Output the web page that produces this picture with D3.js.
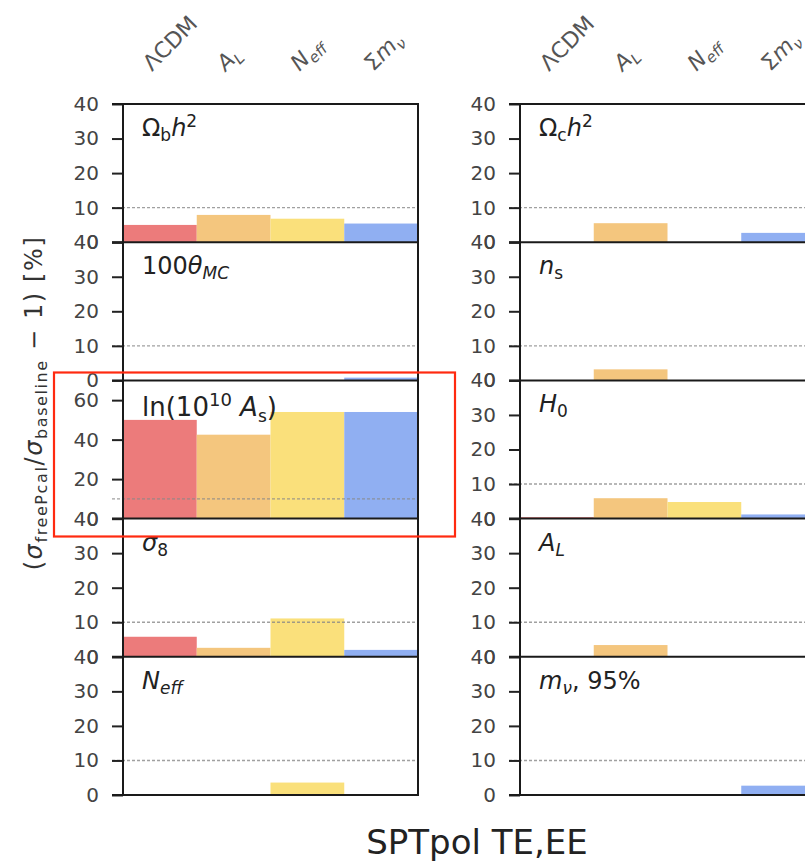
<!DOCTYPE html>
<html>
<head>
<meta charset="utf-8">
<script src="https://cdn.jsdelivr.net/npm/d3@7"></script>
<style>
  html, body { margin: 0; padding: 0; background: #fff; }
  svg { display: block; }
  text { font-family: "DejaVu Sans", sans-serif; }
</style>
</head>
<body>
<svg id="chart" width="805" height="861"></svg>
<script>
// Models compared (columns of bars) and parameters (stacked panels)
const models = ["ΛCDM", "A_L", "N_eff", "Σm_ν"];
const paramsLeft = ["Omega_b h^2", "100theta_MC", "ln(10^10 A_s)", "sigma_8", "N_eff"];
const paramsRight = ["Omega_c h^2", "n_s", "H_0", "A_L", "m_nu, 95%"];

// Percent increase of the parameter uncertainty when Pcal is freed,
// one array per model, ordered as paramsLeft followed by paramsRight
const lcdmVals = [5.0, 0.0, 50.0, 5.8, 0.0, 0.0, 0.0, 0.4, 0.0, 0.0];
const alensVals = [7.9, 0.0, 42.5, 2.6, 0.0, 5.5, 3.2, 5.9, 3.4, 0.0];
const neffVals = [6.8, 0.0, 54.0, 11.1, 3.6, 0.0, 0.0, 4.8, 0.0, 0.0];
const mnuVals = [5.4, 0.8, 54.0, 2.0, 0.0, 2.7, 0.0, 1.2, 0.0, 2.7];

// y-axis ranges and ticks per panel row (left, right)
const yMaxLeft = [40, 40, 70, 40, 40];
const yMaxRight = [40, 40, 40, 40, 40];
const ticks40 = [0, 10, 20, 30, 40];
const ticks70 = [0, 20, 40, 60];
const refLine = 10;

const colors = ["#ec7b7b", "#f4c67e", "#fae07b", "#90aff2"];
const series = [lcdmVals, alensVals, neffVals, mnuVals];

const svg = d3.select("#chart");

const plotTop = 104, plotBottom = 795;
const nRows = 5;
const rowH = (plotBottom - plotTop) / nRows;
const columns = [
  { x0: 123, x1: 418, params: paramsLeft, ymax: yMaxLeft, offset: 0 },
  { x0: 520, x1: 815, params: paramsRight, ymax: yMaxRight, offset: 5 }
];

const LBL = 24, SUB = 17;

// Panel label renderers (math-style labels built from tspans)
function drawLabel(g, name, x, y) {
  const t = g.append("text").attr("x", x).attr("y", y)
    .attr("font-size", LBL).attr("fill", "#222");
  const sub = (s, it) => t.append("tspan").attr("font-size", SUB).attr("dy", 5)
      .attr("font-style", it ? "italic" : null).text(s);
  switch (name) {
    case "Omega_b h^2":
    case "Omega_c h^2":
      t.append("tspan").text("Ω");
      sub(name === "Omega_b h^2" ? "b" : "c");
      t.append("tspan").attr("dy", -5).attr("font-style", "italic").text("h");
      t.append("tspan").attr("font-size", SUB).attr("dy", -9).text("2");
      break;
    case "100theta_MC":
      t.append("tspan").text("100");
      t.append("tspan").attr("font-style", "italic").text("θ");
      sub("MC", true);
      break;
    case "ln(10^10 A_s)":
      t.attr("font-size", 26);
      t.append("tspan").text("ln(10");
      t.append("tspan").attr("font-size", 18).attr("dy", -10).text("10");
      t.append("tspan").attr("dy", 10).text(" ");
      t.append("tspan").attr("font-style", "italic").text("A");
      t.append("tspan").attr("font-size", 17).attr("dy", 6).text("s");
      t.append("tspan").attr("dy", -6).text(")");
      break;
    case "sigma_8":
      t.append("tspan").attr("font-style", "italic").text("σ");
      sub("8");
      break;
    case "N_eff":
      t.append("tspan").attr("font-style", "italic").text("N");
      sub("eff", true);
      break;
    case "n_s":
      t.append("tspan").attr("font-style", "italic").text("n");
      sub("s");
      break;
    case "H_0":
      t.append("tspan").attr("font-style", "italic").text("H");
      sub("0");
      break;
    case "A_L":
      t.append("tspan").attr("font-style", "italic").text("A");
      sub("L", true);
      break;
    case "m_nu, 95%":
      t.append("tspan").attr("font-style", "italic").text("m");
      sub("ν", true);
      t.append("tspan").attr("dy", -5).text(", 95%");
      break;
  }
}

// Model labels on top, rotated
function drawModelLabel(g, name, x, y) {
  const t = g.append("text")
    .attr("transform", `translate(${x},${y}) rotate(-45)`)
    .attr("font-size", 22).attr("fill", "#555");
  if (name === "ΛCDM") t.text("ΛCDM");
  else if (name === "A_L") {
    t.append("tspan").attr("font-style", "italic").text("A");
    t.append("tspan").attr("font-size", 15).attr("dy", 5).attr("font-style", "italic").text("L");
  } else if (name === "N_eff") {
    t.append("tspan").attr("font-style", "italic").text("N");
    t.append("tspan").attr("font-size", 15).attr("dy", 5).attr("font-style", "italic").text("eff");
  } else {
    t.append("tspan").text("Σ");
    t.append("tspan").attr("font-style", "italic").text("m");
    t.append("tspan").attr("font-size", 15).attr("dy", 5).attr("font-style", "italic").text("ν");
  }
}

columns.forEach(col => {
  const x = d3.scaleBand().domain(models).range([col.x0, col.x1]).padding(0);
  const g = svg.append("g");

  col.params.forEach((p, r) => {
    const yb = plotTop + (r + 1) * rowH, ytop = plotTop + r * rowH;
    const y = d3.scaleLinear().domain([0, col.ymax[r]]).range([yb, ytop]);
    const pg = g.append("g");

    // bars
    pg.selectAll("rect.bar")
      .data(models.map((m, i) => ({ m, v: series[i][col.offset + r], c: colors[i] })))
      .join("rect")
      .attr("class", "bar")
      .attr("x", d => x(d.m))
      .attr("width", x.bandwidth())
      .attr("y", d => y(d.v))
      .attr("height", d => yb - y(d.v))
      .attr("fill", d => d.c);

    // reference line at 10 %
    pg.append("line")
      .attr("x1", col.x0 - 11).attr("x2", col.x1)
      .attr("y1", y(refLine)).attr("y2", y(refLine))
      .attr("stroke", "#888").attr("stroke-opacity", 0.8)
      .attr("stroke-width", 1.4).attr("stroke-dasharray", "3,2");

    // y axis
    const axis = d3.axisLeft(y)
      .tickValues(col.ymax[r] === 70 ? ticks70 : ticks40)
      .tickFormat(d3.format("d"))
      .tickSizeInner(11).tickSizeOuter(0).tickPadding(13);
    const ag = pg.append("g").attr("transform", `translate(${col.x0},0)`).call(axis);
    ag.select(".domain").remove();
    ag.selectAll(".tick line").attr("stroke", "#222").attr("stroke-width", 2);
    ag.selectAll(".tick text").attr("font-size", 20).attr("fill", "#444")
      .attr("font-family", "DejaVu Sans, sans-serif");

    // panel frame: bottom line and top of the first panel
    pg.append("line").attr("x1", col.x0 - 11).attr("x2", col.x1 + 1)
      .attr("y1", yb).attr("y2", yb).attr("stroke", "#1a1a1a").attr("stroke-width", 2);
    if (r === 0) {
      pg.append("line").attr("x1", col.x0 - 11).attr("x2", col.x1 + 1)
        .attr("y1", ytop).attr("y2", ytop).attr("stroke", "#1a1a1a").attr("stroke-width", 2);
    }

    drawLabel(pg, p, col.x0 + 19, ytop + (p === "ln(10^10 A_s)" ? 36 : 32));
  });

  g.append("line").attr("x1", col.x0).attr("x2", col.x0).attr("y1", plotTop).attr("y2", plotBottom)
    .attr("stroke", "#1a1a1a").attr("stroke-width", 2);
  g.append("line").attr("x1", col.x1).attr("x2", col.x1).attr("y1", plotTop).attr("y2", plotBottom)
    .attr("stroke", "#1a1a1a").attr("stroke-width", 2);

  models.forEach(m => {
    drawModelLabel(g, m, x(m) + x.bandwidth() / 2 - 8, 72);
  });
});

// y-axis title
const yTitle = svg.append("text")
  .attr("transform", "translate(42,403) rotate(-90)")
  .attr("text-anchor", "middle").attr("font-size", 24).attr("fill", "#333")
  .attr("letter-spacing", 1.6);
yTitle.append("tspan").text("(");
yTitle.append("tspan").attr("font-style", "italic").text("σ");
yTitle.append("tspan").attr("font-size", 16).attr("dy", 5).text("freePcal");
yTitle.append("tspan").attr("dy", -5).text("/");
yTitle.append("tspan").attr("font-style", "italic").text("σ");
yTitle.append("tspan").attr("font-size", 16).attr("dy", 5).text("baseline");
yTitle.append("tspan").attr("dy", -5).text(" − 1) [%]");

// bottom title
svg.append("text").attr("x", 477).attr("y", 854).attr("text-anchor", "middle")
  .attr("font-size", 34).attr("fill", "#222").text("SPTpol TE,EE");

// highlight box around the amplitude panel
svg.append("rect").attr("x", 54).attr("y", 372.5).attr("width", 401).attr("height", 164)
  .attr("fill", "none").attr("stroke", "#ff2a10").attr("stroke-width", 2.2);
</script>
</body>
</html>
